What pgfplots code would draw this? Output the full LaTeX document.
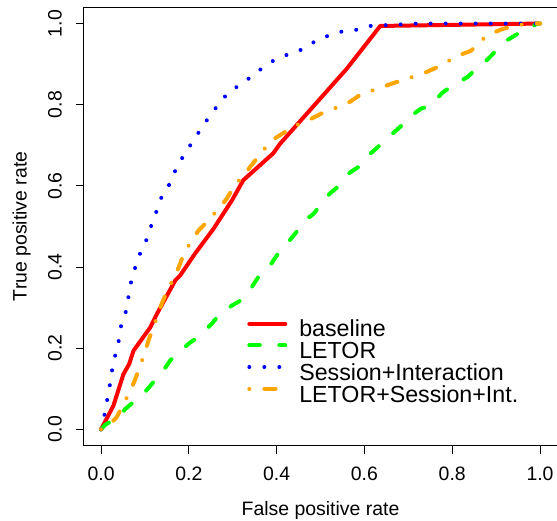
\documentclass[border=0pt]{standalone}
\usepackage{pgfplots}
\pgfplotsset{compat=1.18}
\usepackage{fontspec}
\setmainfont{Liberation Sans}
\definecolor{rred}{HTML}{FF0000}
\definecolor{rgreen}{HTML}{00FF00}
\definecolor{rblue}{HTML}{0000FF}
\definecolor{rorange}{HTML}{FFA500}
\begin{document}
\begin{tikzpicture}
\useasboundingbox (0,0) rectangle (557bp,521bp);
\begin{axis}[
  at={(83.5bp,75.4bp)}, anchor=south west,
  scale only axis, width=474.1bp, height=438.3bp,
  xmin=-0.04, xmax=1.04, ymin=-0.04, ymax=1.04,
  xtick={0,0.2,0.4,0.6,0.8,1.0}, ytick={0,0.2,0.4,0.6,0.8,1.0},
  xtick pos=bottom, ytick pos=left, tick align=outside,
  major tick length=8bp,
  every tick/.style={black, line width=0.8bp},
  axis line style={line width=0.8bp},
  /pgf/number format/.cd, fixed, fixed zerofill, precision=1, assume math mode=true,
  /pgfplots/.cd,
  tick label style={font=\fontsize{19.5}{23}\selectfont},
  xticklabel style={anchor=base, inner sep=0pt, yshift=-26.8bp},
  yticklabel style={anchor=base, inner sep=0pt, xshift=-13.8bp, rotate=90},
  every axis x label/.style={at={(axis description cs:0.5,0)}, yshift=-70.1bp, anchor=base, inner sep=0pt, font=\fontsize{19.5}{23}\selectfont},
  every axis y label/.style={at={(axis description cs:0,0.5)}, xshift=-56.8bp, rotate=90, anchor=base, inner sep=0pt, font=\fontsize{19.5}{23}\selectfont},
  xlabel={False positive rate}, ylabel={True positive rate},
  legend image code/.code={\draw[#1] (0bp,9bp) -- (36bp,9bp);},
  legend cell align=left,
  legend style={draw=none, fill=none, inner sep=0pt, outer sep=0pt,
    at={(axis description cs:0.3455,0.2827)}, anchor=north west,
    font=\fontsize{23.3}{25}\selectfont,
    nodes={inner sep=0pt, outer sep=0pt, text height=15bp, text depth=6.4bp},
    column sep=12bp, row sep=0pt},
  every axis plot/.append style={line width=4bp, line cap=round, line join=round},
]
\addplot[rred, solid] coordinates {
(0,0) (0.028,0.058) (0.051,0.136) (0.064,0.161) (0.074,0.194) (0.112,0.251) (0.127,0.284) (0.169,0.367) (0.180,0.379) (0.214,0.433) (0.256,0.494) (0.298,0.564) (0.324,0.614) (0.392,0.680) (0.408,0.704) (0.560,0.889) (0.636,0.994) (1,1)
};
\addlegendentry{baseline}
\addplot[rgreen, dash pattern=on 10.5bp off 19.5bp] coordinates {
(0,0) (0.009,0.011) (0.043,0.033) (0.055,0.050) (0.081,0.074) (0.096,0.087) (0.119,0.116) (0.134,0.132) (0.157,0.169) (0.172,0.186) (0.203,0.214) (0.222,0.228) (0.252,0.260) (0.267,0.280) (0.298,0.305) (0.320,0.319) (0.343,0.350) (0.358,0.375) (0.385,0.404) (0.400,0.428) (0.423,0.457) (0.442,0.482) (0.465,0.515) (0.484,0.531) (0.506,0.562) (0.522,0.582) (0.552,0.609) (0.566,0.632) (0.598,0.655) (0.609,0.675) (0.639,0.704) (0.654,0.719) (0.685,0.749) (0.700,0.768) (0.730,0.791) (0.749,0.796) (0.776,0.828) (0.791,0.840) (0.822,0.860) (0.837,0.870) (0.863,0.898) (0.879,0.910) (0.905,0.939) (0.916,0.953) (0.951,0.976) (0.973,0.986) (0.992,0.999) (1,1)
};
\addlegendentry{LETOR}
\addplot[rblue, dash pattern=on 0.01bp off 15bp] coordinates {
(0,0) (0.008,0.037) (0.014,0.073) (0.020,0.109) (0.025,0.145) (0.032,0.181) (0.040,0.217) (0.045,0.253) (0.056,0.288) (0.062,0.324) (0.068,0.361) (0.077,0.396) (0.088,0.431) (0.102,0.463) (0.113,0.498) (0.125,0.533) (0.135,0.567) (0.153,0.597) (0.166,0.631) (0.181,0.662) (0.199,0.693) (0.217,0.723) (0.236,0.754) (0.255,0.783) (0.275,0.811) (0.295,0.836) (0.323,0.851) (0.346,0.874) (0.374,0.895) (0.400,0.914) (0.432,0.926) (0.462,0.938) (0.490,0.958) (0.520,0.971) (0.551,0.981) (0.585,0.985) (0.617,0.995) (0.651,0.996) (0.719,1.0) (1,1)
};
\addlegendentry{Session+Interaction}
\addplot[rorange, dash pattern=on 0.01bp off 15bp on 11.25bp off 15bp] coordinates {
(0,0) (0.024,0.017) (0.035,0.029) (0.053,0.066) (0.070,0.103) (0.078,0.124) (0.089,0.157) (0.100,0.190) (0.108,0.219) (0.119,0.251) (0.131,0.288) (0.138,0.309) (0.153,0.346) (0.172,0.387) (0.180,0.408) (0.191,0.439) (0.210,0.470) (0.222,0.490) (0.248,0.519) (0.271,0.548) (0.286,0.568) (0.303,0.599) (0.328,0.630) (0.339,0.646) (0.362,0.677) (0.383,0.706) (0.396,0.717) (0.431,0.741) (0.461,0.758) (0.480,0.766) (0.514,0.785) (0.544,0.795) (0.567,0.807) (0.591,0.825) (0.624,0.837) (0.647,0.846) (0.679,0.858) (0.711,0.869) (0.734,0.877) (0.765,0.892) (0.795,0.910) (0.806,0.918) (0.843,0.933) (0.867,0.959) (0.882,0.972) (0.913,0.986) (0.947,0.996) (0.973,0.999) (1,1)
};
\addlegendentry{LETOR+Session+Int.}
\end{axis}
\end{tikzpicture}
\end{document}
